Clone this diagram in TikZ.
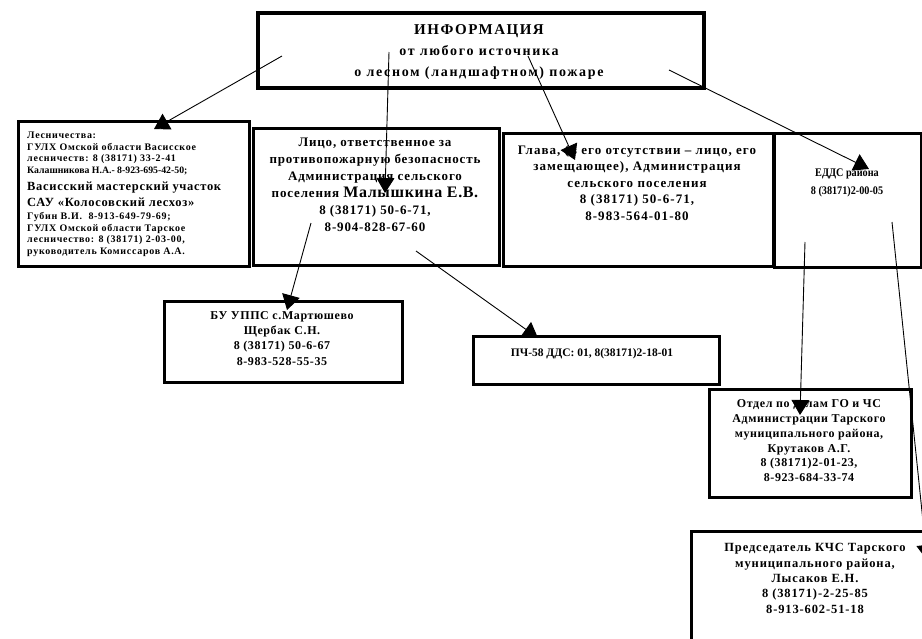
\documentclass[tikz,border=0pt]{standalone}
\usepackage{fontspec}
\usepackage{graphicx}
\setmainfont{Liberation Serif}
\usetikzlibrary{arrows.meta}
\newcommand{\LSp}[1]{\addfontfeatures{LetterSpace=#1}}
\tikzset{
  box/.style={draw, line width=2.8pt, inner sep=0pt, anchor=north west},
  arr/.style={line width=0.9pt, -{Triangle[length=15pt,width=18pt]}},
  txt/.style={inner sep=0pt, align=center, anchor=north},
}
\begin{document}
\begin{tikzpicture}[x=1pt,y=-1pt]
\useasboundingbox[fill=white] (0,0) rectangle (922,638);
% boxes
\node[box, line width=3.8pt, minimum width=446pt, minimum height=75pt] (top) at (256,11) {};
\node[box, minimum width=231pt, minimum height=145pt] (lesn) at (17,120) {};
\node[box, minimum width=246pt, minimum height=137pt] (lico) at (252,127) {};
\node[box, minimum width=270pt, minimum height=133pt] (glava) at (502,132) {};
\node[box, minimum width=147pt, minimum height=134pt] (edds) at (773,132) {};
\node[box, minimum width=238pt, minimum height=81pt] (bu) at (163,300) {};
\node[box, minimum width=246pt, minimum height=48pt] (pch) at (472,335) {};
\node[box, minimum width=202pt, minimum height=108pt] (otd) at (708,388) {};
\node[box, minimum width=260pt, minimum height=130pt] (pred) at (690,530) {};
% texts
\node[txt, font=\fontsize{14}{21}\selectfont\bfseries\LSp{12}] (topT) at (479,24)
  {{\fontsize{15}{21}\selectfont\LSp{10}ИНФОРМАЦИЯ}\\ от любого источника\\ о лесном (ландшафтном) пожаре};
\node[txt, anchor=north west, align=left, font=\fontsize{10}{11.5}\selectfont\bfseries\LSp{7}] (lesnT) at (27,132)
  {Лесничества:\\
   ГУЛХ Омской области Васисское\\
   лесничеств: 8 (38171) 33-2-41\\
   {\fontsize{9.8}{11.5}\selectfont\LSp{0}Калашникова Н.А.- 8-923-695-42-50;}\\[6pt]
   {\fontsize{12.5}{16}\selectfont\LSp{5.5}Васисский мастерский участок}\\[4.5pt]
   {\fontsize{12.5}{16}\selectfont\LSp{5.5}САУ «Колосовский лесхоз»}\\[1.5pt]
   Губин В.И.\ \ 8-913-649-79-69;\\
   ГУЛХ Омской области Тарское\\
   лесничество: 8 (38171) 2-03-00,\\
   руководитель Комиссаров А.А.};
\node[txt, font=\fontsize{13}{17}\selectfont\bfseries\LSp{6.5}] (licoT) at (375,138)
  {Лицо, ответственное за\\ противопожарную безопасность\\ Администрация сельского\\
   поселения {\fontsize{16}{17}\selectfont\LSp{4}Малышкина Е.В.}\\ 8 (38171) 50-6-71,\\ 8-904-828-67-60};
\node[txt, font=\fontsize{13}{16.5}\selectfont\bfseries\LSp{8}] (glavaT) at (637,145)
  {Глава, (в его отсутствии – лицо, его\\ замещающее), Администрация\\ сельского поселения\\ 8 (38171) 50-6-71,\\ 8-983-564-01-80};
\node[txt, font=\fontsize{11.6}{18}\selectfont\bfseries] (eddsT) at (847,168)
  {\scalebox{0.88}[1]{ЕДДС района}\\ \scalebox{0.88}[1]{8 (38171)2-00-05}};
\node[txt, font=\fontsize{12}{15.3}\selectfont\bfseries\LSp{5}] (buT) at (282,311)
  {БУ УППС с.Мартюшево\\ Щербак С.Н.\\ 8 (38171) 50-6-67\\ 8-983-528-55-35};
\node[txt, font=\fontsize{11.5}{14}\selectfont\bfseries] (pchT) at (592,348)
  {ПЧ-58 ДДС: 01, 8(38171)2-18-01};
\node[txt, font=\fontsize{12}{14.8}\selectfont\bfseries\LSp{5}] (otdT) at (809,399.5)
  {Отдел по делам ГО и ЧС\\ Администрации Тарского\\ муниципального района,\\ Крутаков А.Г.\\ 8 (38171)2-01-23,\\ 8-923-684-33-74};
\node[txt, font=\fontsize{12.5}{15.3}\selectfont\bfseries\LSp{7}] (predT) at (815,543.5)
  {Председатель КЧС Тарского\\ муниципального района,\\ Лысаков Е.Н.\\ 8 (38171)-2-25-85\\ 8-913-602-51-18};
% connector end points
\coordinate (s1) at (282,56);  \coordinate (e1) at (154,129);
\coordinate (s2) at (389,52);  \coordinate (e2) at (385,193);
\coordinate (s3) at (528,56);  \coordinate (e3) at (575,160);
\coordinate (s4) at (669,70);  \coordinate (e4) at (869,169);
\coordinate (s5) at (311,223); \coordinate (e5) at (287,310);
\coordinate (s6) at (416,251); \coordinate (e6) at (538,338);
\coordinate (s7) at (805,242); \coordinate (e7) at (800,415);
\coordinate (s8) at (892,222); \coordinate (e8) at (927,560);
\foreach \i in {1,...,8} {\draw[arr] (s\i) -- (e\i);}
\end{tikzpicture}
\end{document}
